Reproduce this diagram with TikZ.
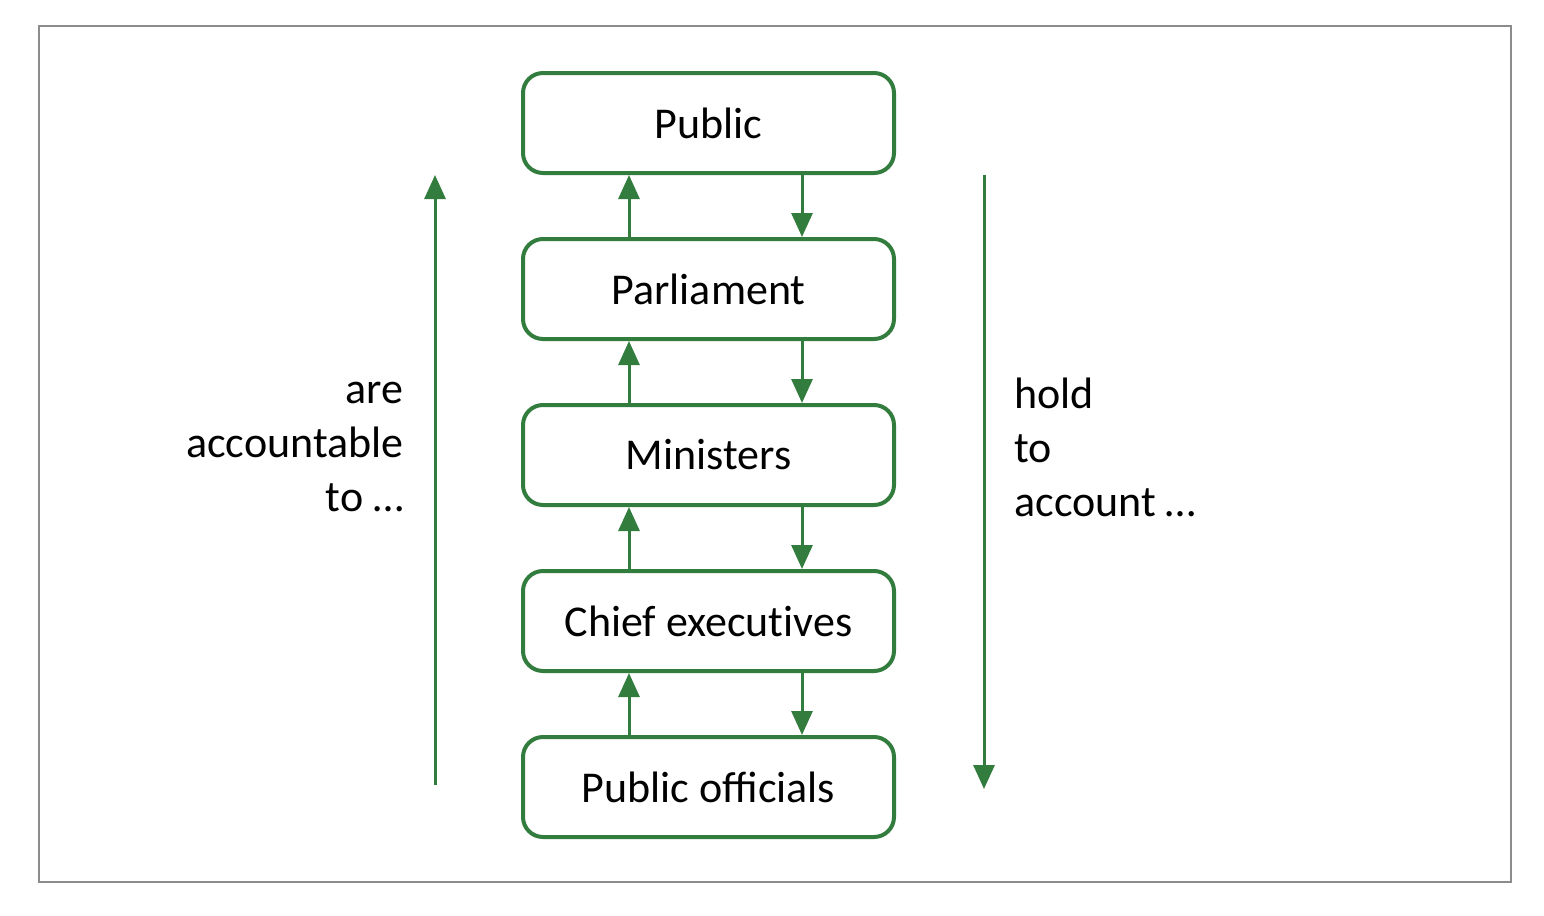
\documentclass[tikz,border=0pt]{standalone}
\usepackage{fontspec}
\setmainfont{Carlito}
\usetikzlibrary{arrows.meta,positioning}
\definecolor{acctgreen}{HTML}{327D3E}
\definecolor{framegray}{HTML}{8C8C8C}

\begin{document}
\begin{tikzpicture}[
        x=0.5pt, y=-0.5pt,
        level/.style={
            draw=acctgreen,
            line width=2pt,
            rounded corners=10pt,
            align=center,
            minimum width=185.5pt,
            minimum height=50pt,
            inner sep=0pt,
            font=\fontsize{22}{27}\selectfont
        },
        side/.style={inner sep=0pt, font=\fontsize{22}{27}\selectfont},
        flow/.style={-{Triangle[length=12pt, width=10.5pt]}, line width=1.5pt, draw=acctgreen},
        node distance=31pt
    ]
        \useasboundingbox (0,0) rectangle (1544,916);
        \draw[framegray, line width=1pt] (39,26) rectangle (1511,882);

        \node[level] (public) at (708.5,123) {Public};
        \node[level, below=of public] (parliament) {Parliament};
        \node[level, below=of parliament] (ministers) {Ministers};
        \node[level, below=of ministers] (chiefs) {Chief execut\kern0pt ives};
        \node[level, below=of chiefs] (officials) {Public officials};

        \draw[flow] ([xshift=-39.75pt]parliament.north) -- ([xshift=-39.75pt]public.south);
        \draw[flow] ([xshift=46.75pt]public.south) -- ([xshift=46.75pt]parliament.north);
        \draw[flow] ([xshift=-39.75pt]ministers.north) -- ([xshift=-39.75pt]parliament.south);
        \draw[flow] ([xshift=46.75pt]parliament.south) -- ([xshift=46.75pt]ministers.north);
        \draw[flow] ([xshift=-39.75pt]chiefs.north) -- ([xshift=-39.75pt]ministers.south);
        \draw[flow] ([xshift=46.75pt]ministers.south) -- ([xshift=46.75pt]chiefs.north);
        \draw[flow] ([xshift=-39.75pt]officials.north) -- ([xshift=-39.75pt]chiefs.south);
        \draw[flow] ([xshift=46.75pt]chiefs.south) -- ([xshift=46.75pt]officials.north);

        \coordinate (upfoot) at (435,785);
        \coordinate (uphead) at (435,175);
        \coordinate (downfoot) at (984,175);
        \coordinate (downhead) at (984,789);
        \draw[flow] (upfoot) -- (uphead);
        \draw[flow] (downfoot) -- (downhead);

        \node[side, align=right, anchor=east] (accountable) at (404,447) {are\\accountable\\to \dots};
        \node[side, align=left, anchor=west] (holdto) at (1014,447) {hold\\to\\account \dots};
    \end{tikzpicture}
\end{document}
